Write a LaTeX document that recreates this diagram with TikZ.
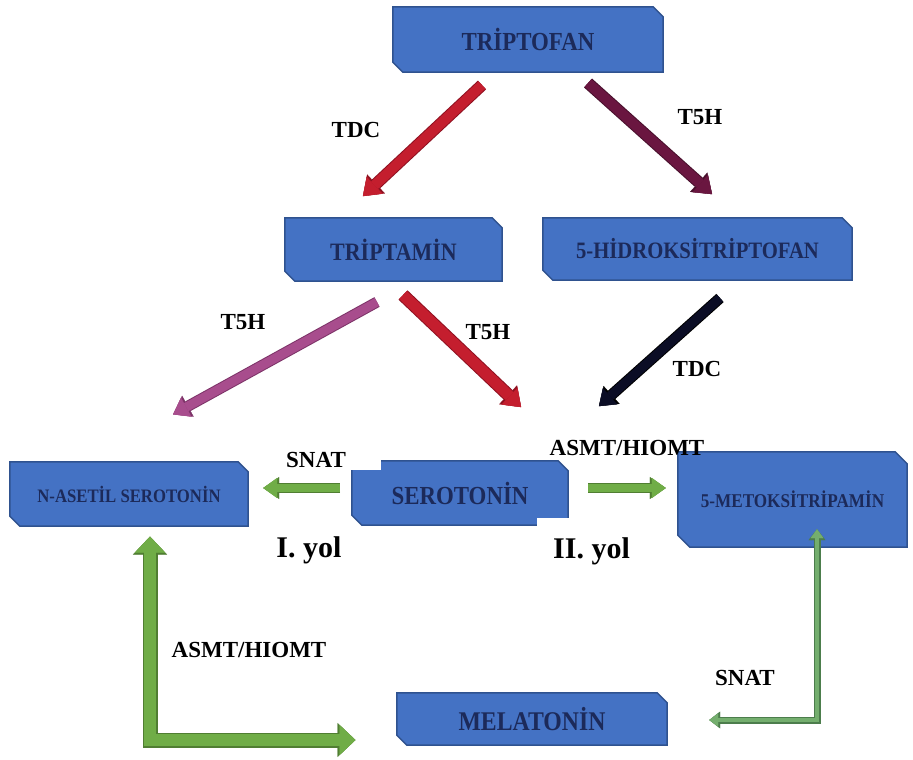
\documentclass[tikz,border=0pt]{standalone}
\usepackage{fontspec}
\setmainfont{Liberation Serif}
\newfontfamily\boxfont{Liberation Serif}[FakeStretch=0.88]
\usetikzlibrary{arrows.meta,backgrounds}
\definecolor{boxfill}{HTML}{4472C4}
\definecolor{boxline}{HTML}{2F528F}
\definecolor{boxtext}{HTML}{1C2A5A}
\definecolor{redA}{HTML}{C41E2E}
\definecolor{redAb}{HTML}{8E1020}
\definecolor{maroon}{HTML}{6A1640}
\definecolor{maroonb}{HTML}{48102C}
\definecolor{mauve}{HTML}{A84D8D}
\definecolor{mauveb}{HTML}{7D3368}
\definecolor{navyA}{HTML}{0B0D25}
\definecolor{greenA}{HTML}{70AD47}
\definecolor{greenAb}{HTML}{507E32}
\definecolor{greenB}{HTML}{74AE6E}
\definecolor{greenBb}{HTML}{4C7D4C}
\newcommand\bxf[1]{\boxfont\bfseries\fontsize{#1}{#1}\selectfont}
\newcommand\snipbox[2]{%
  \filldraw[fill=boxfill,draw=boxline,line width=1.5pt]
    (#1.north west) -- ([xshift=-#2]#1.north east) -- ([yshift=-#2]#1.north east)
    -- (#1.south east) -- ([xshift=#2]#1.south west) -- ([yshift=#2]#1.south west) -- cycle;}
\tikzset{
  box/.style={rectangle,inner sep=0pt,text=boxtext,align=center},
  lab/.style={font=\bfseries\fontsize{23}{23}\selectfont,inner sep=1pt,text=black},
  big/.style={font=\bfseries\fontsize{30}{30}\selectfont,inner sep=1pt,text=black},
  barrow/.style n args={7}{
    preaction={draw=#2,line width=#4,-{Triangle[length=#7,width=#6,line width=0.3pt]}},
    draw=#1,line width=#3,-{Triangle[length=#5,width=#5*1.45,line width=0.3pt]},shorten >=1.2pt},
}
\begin{document}
\begin{tikzpicture}[x=1pt,y=-1pt]
\useasboundingbox (0,0) rectangle (913,760);
% boxes
\node[box,minimum width=270,minimum height=65,font=\bxf{26}] (trp) at (528,39.5) {TRİPTOFAN};
\node[box,minimum width=217,minimum height=63,font=\bxf{25}] (trpm) at (393.5,249.5) {TRİPTAMİN};
\node[box,minimum width=309,minimum height=62,font=\bxf{23.5}] (hdx) at (697.5,249) {5-HİDROKSİTRİPTOFAN};
\node[box,minimum width=238,minimum height=64,font=\bxf{19}] (nas) at (129,494) {N-ASETİL SEROTONİN};
\node[box,minimum width=216,minimum height=64,font=\bxf{26}] (ser) at (460,493) {SEROTONİN};
\node[box,minimum width=229,minimum height=95,font=\bxf{19.5}] (mtk) at (792.5,499.5) {5-METOKSİTRİPAMİN};
\node[box,minimum width=270,minimum height=52,font=\bxf{27}] (mel) at (532,719) {MELATONİN};
\begin{scope}[on background layer]
  \snipbox{trp}{10pt}
  \snipbox{trpm}{10pt}
  \snipbox{hdx}{10pt}
  \snipbox{nas}{10pt}
  \snipbox{ser}{10pt}
  \snipbox{mtk}{12pt}
  \snipbox{mel}{10pt}
\end{scope}
% arrow end points
\coordinate (a1s) at (482,85);  \coordinate (a1e) at (362,197);
\coordinate (a2s) at (588,83);  \coordinate (a2e) at (713,195);
\coordinate (a3s) at (377,302); \coordinate (a3e) at (172,415);
\coordinate (a4s) at (403,295); \coordinate (a4e) at (522,408);
\coordinate (a5s) at (720,298); \coordinate (a5e) at (598,407);
\coordinate (a6s) at (340,488); \coordinate (a6e) at (262,488);
\coordinate (a7s) at (588,488); \coordinate (a7e) at (667,488);
\coordinate (a8s) at (150,535); \coordinate (a8e) at (357,740);
\coordinate (a9s) at (817,528); \coordinate (a9e) at (708,720);
% diagonal arrows
\draw[barrow={redA}{redAb}{10pt}{12pt}{16pt}{26pt}{18pt}] (a1s) -- (a1e);
\draw[barrow={maroon}{maroonb}{10pt}{12pt}{16pt}{26pt}{18pt}] (a2s) -- (a2e);
\draw[barrow={mauve}{mauveb}{9pt}{11pt}{15pt}{24pt}{17pt}] (a3s) -- (a3e);
\draw[barrow={redA}{redAb}{11pt}{13pt}{16pt}{26pt}{18pt}] (a4s) -- (a4e);
\draw[barrow={navyA}{black}{9pt}{11pt}{15pt}{24pt}{17pt}] (a5s) -- (a5e);
% horizontal green arrows
\draw[barrow={greenA}{greenAb}{8pt}{10pt}{14pt}{22pt}{16pt}] (a6s) -- (a6e);
\draw[barrow={greenA}{greenAb}{8pt}{10pt}{14pt}{22pt}{16pt}] (a7s) -- (a7e);
% L-shaped arrows
\draw[line join=miter,
  preaction={draw=greenAb,line width=15pt,line join=miter,
    {Triangle[length=18pt,width=34pt,line width=0.3pt]}-{Triangle[length=18pt,width=34pt,line width=0.3pt]}},
  draw=greenA,line width=12pt,shorten <=1.5pt,shorten >=1.5pt,
  {Triangle[length=16pt,width=30pt,line width=0.3pt]}-{Triangle[length=16pt,width=30pt,line width=0.3pt]}]
  (a8s) -- (a8s |- a8e) -- (a8e);
\draw[line join=miter,
  preaction={draw=greenBb,line width=7pt,line join=miter,
    {Triangle[length=11pt,width=17pt,line width=0.3pt]}-{Triangle[length=11pt,width=17pt,line width=0.3pt]}},
  draw=greenB,line width=4pt,shorten <=1.2pt,shorten >=1.2pt,
  {Triangle[length=9pt,width=13pt,line width=0.3pt]}-{Triangle[length=9pt,width=13pt,line width=0.3pt]}]
  (a9s) -- (a9s |- a9e) -- (a9e);
% labels
\node[lab] (l1) at (356,130) {TDC};
\node[lab] (l2) at (700,117) {T5H};
\node[lab] (l3) at (243,322) {T5H};
\node[lab] (l4) at (488,332) {T5H};
\node[lab] (l5) at (697,369) {TDC};
\node[lab,fill=white,anchor=base west,inner ysep=0pt,inner xsep=2pt,text width=93pt,align=left,text depth=3pt] (l6) at (284,467) {SNAT};
\node[lab] (l7) at (627,448) {ASMT/HIOMT};
\node[big] (l8) at (309,550) {I. yol};
\node[big,fill=white,anchor=base west,inner ysep=0pt,inner xsep=16pt,text height=40pt,text depth=9pt] (l9) at (537,558) {II. yol};
\node[lab] (l10) at (249,650) {ASMT/HIOMT};
\node[lab] (l11) at (745,678) {SNAT};
\end{tikzpicture}
\end{document}
